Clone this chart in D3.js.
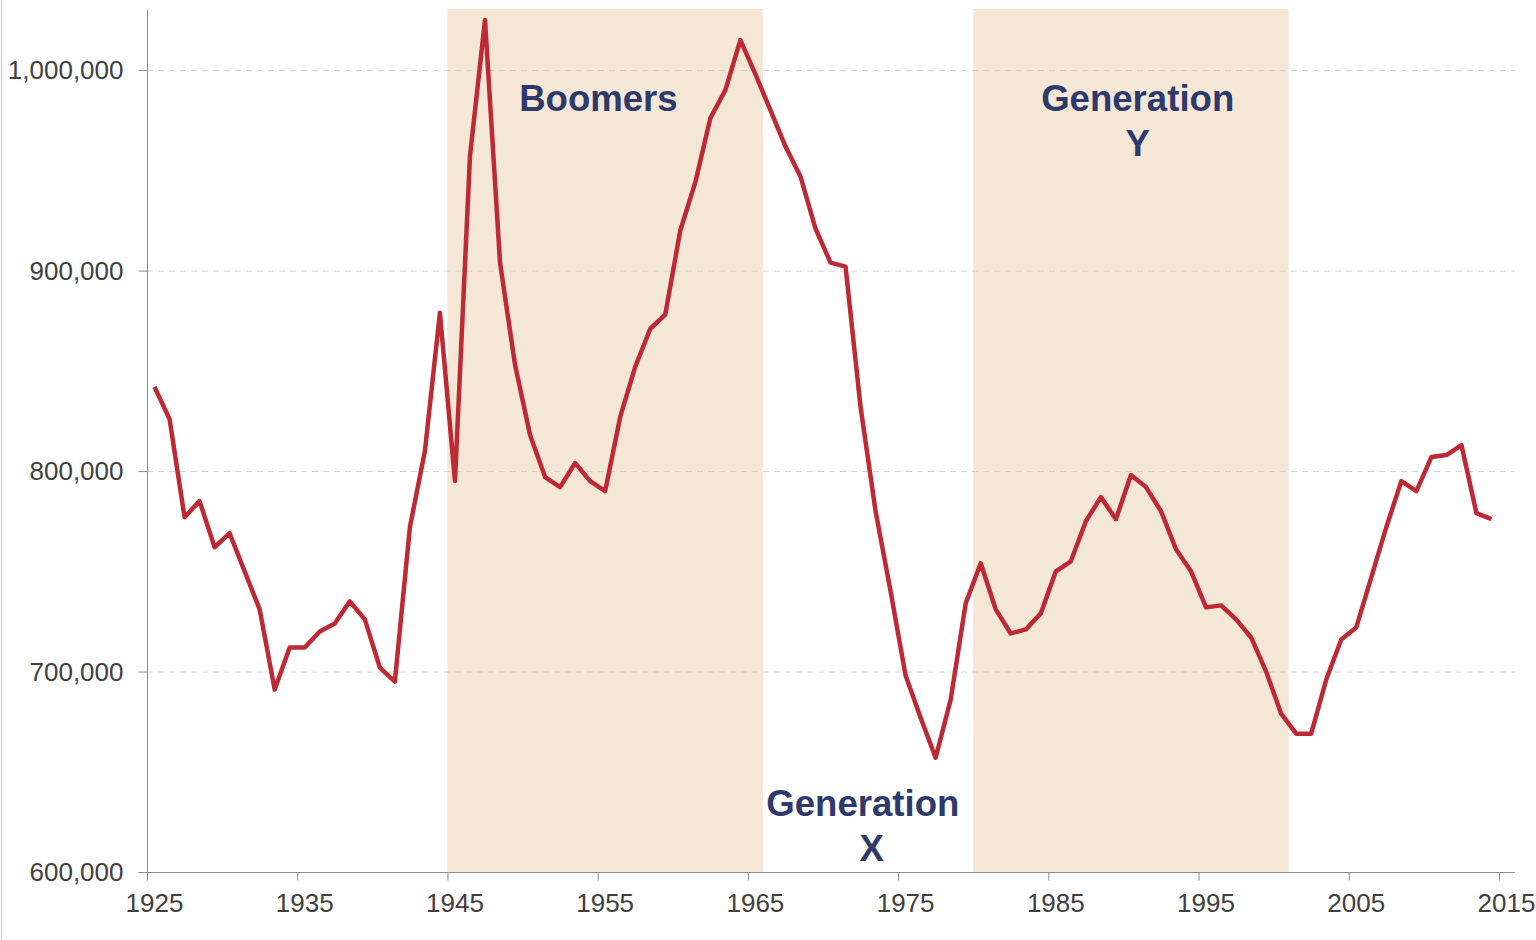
<!DOCTYPE html>
<meta charset="utf-8">
<style>
    body { margin: 0; background: #fff; }
    svg { display: block; }
    .tick text { font: 26px "Liberation Sans", Arial, sans-serif; fill: #404040; }
    .grid line { stroke: #d0d0d0; stroke-dasharray: 6,5; }
    .gen { font: bold 36.6px "Liberation Sans", Arial, sans-serif; fill: #2f3a6c; text-anchor: middle; }
</style>
<svg width="1536" height="940"></svg>
<script src="https://d3js.org/d3.v7.min.js"></script>
<script>
    var years = [1925, 1926, 1927, 1928, 1929, 1930, 1931, 1932, 1933, 1934,
        1935, 1936, 1937, 1938, 1939, 1940, 1941, 1942, 1943, 1944,
        1945, 1946, 1947, 1948, 1949, 1950, 1951, 1952, 1953, 1954,
        1955, 1956, 1957, 1958, 1959, 1960, 1961, 1962, 1963, 1964,
        1965, 1966, 1967, 1968, 1969, 1970, 1971, 1972, 1973, 1974,
        1975, 1976, 1977, 1978, 1979, 1980, 1981, 1982, 1983, 1984,
        1985, 1986, 1987, 1988, 1989, 1990, 1991, 1992, 1993, 1994,
        1995, 1996, 1997, 1998, 1999, 2000, 2001, 2002, 2003, 2004,
        2005, 2006, 2007, 2008, 2009, 2010, 2011, 2012, 2013, 2014];

    var births = [842000, 826000, 777000, 785000, 762000, 769000, 750000, 731000, 691000, 712000,
        712000, 720000, 724000, 735000, 726000, 702000, 695000, 772000, 810000, 879000,
        795000, 957000, 1025000, 904000, 853000, 818000, 797000, 792000, 804000, 795000,
        790000, 827000, 852000, 871000, 878000, 920000, 944000, 976000, 990000, 1015000,
        998000, 980000, 962000, 947000, 921000, 904000, 902000, 832000, 780000, 740000,
        698000, 677000, 657000, 686000, 734000, 754000, 731000, 719000, 721000, 729000,
        750000, 755000, 775000, 787000, 776000, 798000, 792000, 780000, 761000, 750000,
        732000, 733000, 726000, 717000, 700000, 679000, 669000, 669000, 696000, 716000,
        722000, 747000, 772000, 795000, 790000, 807000, 808000, 813000, 779000, 776000];

    var xTicks = [1925, 1935, 1945, 1955, 1965, 1975, 1985, 1995, 2005, 2015];
    var yTicks = [600000, 700000, 800000, 900000, 1000000];

    // generation bands: first and last birth year
    var bandNames = ["Boomers", "Generation Y"];
    var bandStart = [1945, 1980];
    var bandEnd = [1965, 2000];

    var svg = d3.select("svg");

    var x = d3.scaleLinear().domain([1925, 2016]).range([147, 1514]);
    var y = d3.scaleLinear().domain([600000, 1030000]).range([872, 10]);

    // left frame edge
    svg.append("line").attr("x1", 1.5).attr("x2", 1.5).attr("y1", 0).attr("y2", 940)
        .attr("stroke", "#c4c4c4");

    svg.append("g").selectAll("rect")
        .data(bandNames)
        .enter().append("rect")
        .attr("x", function(d, i) { return x(bandStart[i]); })
        .attr("width", function(d, i) { return x(bandEnd[i] + 1) - x(bandStart[i]); })
        .attr("y", 9)
        .attr("height", 872 - 9)
        .attr("fill", "#f5e7d5");

    svg.append("g").attr("class", "grid")
        .selectAll("line")
        .data(yTicks.slice(1))
        .enter().append("line")
        .attr("x1", 147).attr("x2", 1515)
        .attr("y1", function(d) { return y(d) + 0.5; })
        .attr("y2", function(d) { return y(d) + 0.5; });

    // y axis
    var yAxis = svg.append("g").attr("transform", "translate(147.5,0)")
        .call(d3.axisLeft(y).tickValues(yTicks).tickSize(9).tickPadding(15)
            .tickFormat(d3.format(",")));
    yAxis.select(".domain").attr("d", "M0,10V872").attr("stroke", "#8c8c8c");
    yAxis.selectAll(".tick line").attr("stroke", "#8c8c8c");
    yAxis.selectAll(".tick text").attr("dy", "0.34em");

    // x axis
    var xAxis = svg.append("g").attr("transform", "translate(0,872.5)")
        .call(d3.axisBottom(x).tickValues(xTicks).tickSize(8).tickPadding(14)
            .tickFormat(d3.format("d")));
    xAxis.select(".domain").attr("d", "M147,0H1515").attr("stroke", "#8c8c8c");
    xAxis.selectAll(".tick line").attr("stroke", "#8c8c8c");
    xAxis.selectAll(".tick text").attr("x", 7).attr("dy", "0.68em");

    var line = d3.line()
        .x(function(d, i) { return x(years[i] + 0.5); })
        .y(function(d) { return y(d); });

    svg.append("path")
        .datum(births)
        .attr("d", line)
        .attr("fill", "none")
        .attr("stroke", "#bd2a36")
        .attr("stroke-width", 4.5)
        .attr("stroke-linejoin", "round");

    // labels
    var gen = svg.append("g");
    gen.append("text").attr("class", "gen")
        .attr("x", x(1955.05)).attr("y", y(979500)).text("Boomers");
    gen.append("text").attr("class", "gen")
        .attr("x", x(1990.95)).attr("y", y(979500)).text("Generation");
    gen.append("text").attr("class", "gen")
        .attr("x", x(1990.95)).attr("y", y(957300)).text("Y");
    gen.append("text").attr("class", "gen")
        .attr("x", x(1972.65)).attr("y", y(627800)).text("Generation");
    gen.append("text").attr("class", "gen")
        .attr("x", x(1973.25)).attr("y", y(605500)).text("X");
</script>
